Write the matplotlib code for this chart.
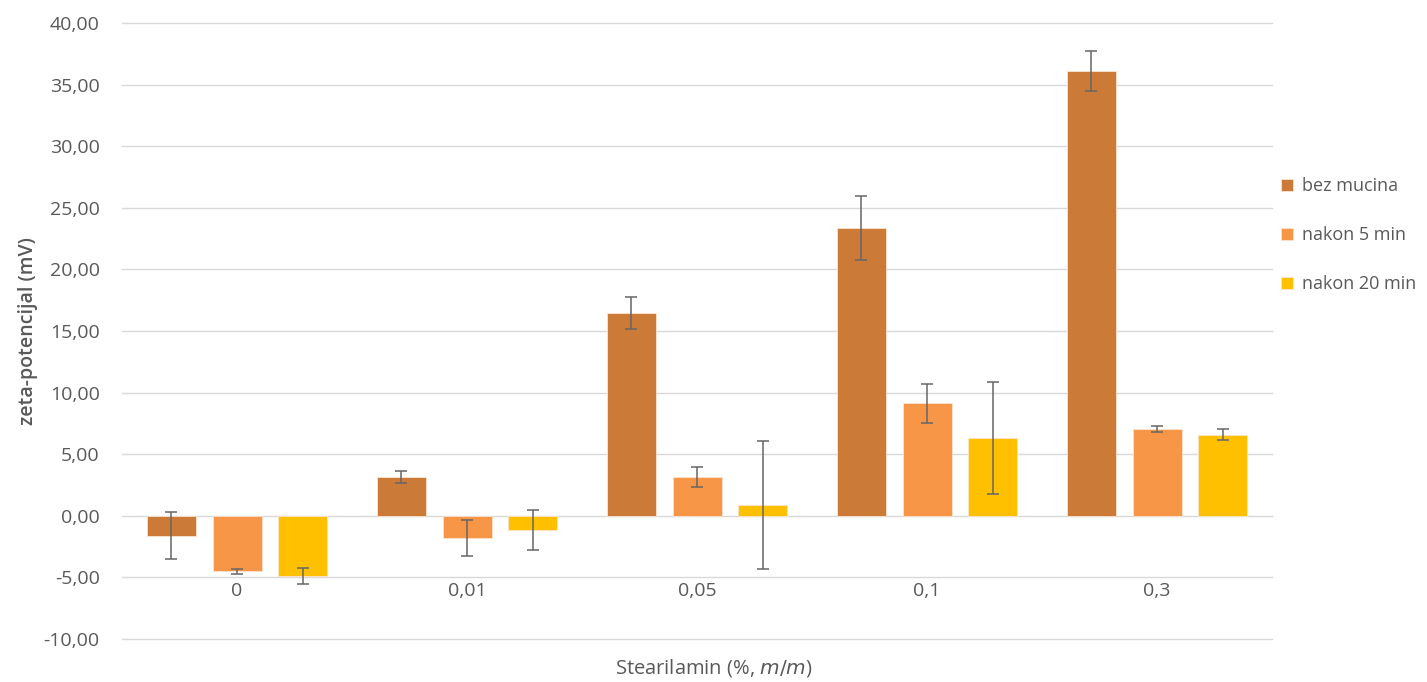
import matplotlib
matplotlib.use("Agg")
import matplotlib.pyplot as plt
import numpy as np

categories = ["0", "0,01", "0,05", "0,1", "0,3"]
series_names = ["bez mucina", "nakon 5 min", "nakon 20 min"]
bez_mucina = [-1.60, 3.14, 16.50, 23.35, 36.10]
bez_mucina_err = [1.90, 0.50, 1.30, 2.60, 1.60]
nakon_5 = [-4.50, -1.78, 3.14, 9.14, 7.03]
nakon_5_err = [0.22, 1.45, 0.82, 1.58, 0.22]
nakon_20 = [-4.92, -1.14, 0.87, 6.30, 6.60]
nakon_20_err = [0.65, 1.60, 5.20, 4.55, 0.47]
yticks = [-10, -5, 0, 5, 10, 15, 20, 25, 30, 35, 40]

colors = ["#CC7A38", "#F79646", "#FFC000"]
text_gray = "#595959"

plt.rcParams['font.family'] = ['Open Sans', 'DejaVu Sans']

fig = plt.figure(figsize=(14.27, 6.82), dpi=100)
ax = fig.add_axes([0.0855, 0.063, 0.8059, 0.9033])

x = np.arange(len(categories))
width = 0.213
offset = 0.285
data = [(bez_mucina, bez_mucina_err), (nakon_5, nakon_5_err), (nakon_20, nakon_20_err)]
for i, ((vals, errs), name, c) in enumerate(zip(data, series_names, colors)):
    pos = x + (i - 1) * offset
    ax.bar(pos, vals, width, color=c, label=name, zorder=3,
           edgecolor="#FBE3CF", linewidth=0.6)
    ax.errorbar(pos, vals, yerr=errs, fmt='none', ecolor="#666666",
                elinewidth=1.1, capsize=4.5, capthick=1.1, zorder=4)

ax.set_xlim(-0.5, len(categories) - 0.5)
ax.set_ylim(-10, 40)
ax.set_yticks(yticks)
ax.set_yticklabels([f"{v:.2f}".replace(".", ",") for v in yticks],
                   fontsize=14, color=text_gray)
ax.tick_params(axis='y', length=0, pad=16)
ax.set_xticks([])
ax.grid(axis='y', color="#D9D9D9", linewidth=1, zorder=0)
for gl in ax.get_ygridlines():
    gl.set_clip_on(False)
for s in ax.spines.values():
    s.set_visible(False)

for xi, lab in zip(x, categories):
    ax.text(xi, -6.1, lab, ha='center', va='center', fontsize=14, color=text_gray)

ax.set_ylabel("zeta-potencijal (mV)", fontsize=14, color=text_gray,
              fontweight='semibold', labelpad=4)
fig.text(0.5, 0.021, "Stearilamin (%, $\\it{m/m}$)", ha='center', va='center',
         fontsize=14.5, color=text_gray)

leg = fig.legend(loc='upper left', bbox_to_anchor=(0.886, 0.764), frameon=False,
                 fontsize=13, handlelength=0.7, handleheight=0.7,
                 handletextpad=0.5, labelspacing=1.72)
for t in leg.get_texts():
    t.set_color(text_gray)

fig.savefig("out.png", dpi=100)
